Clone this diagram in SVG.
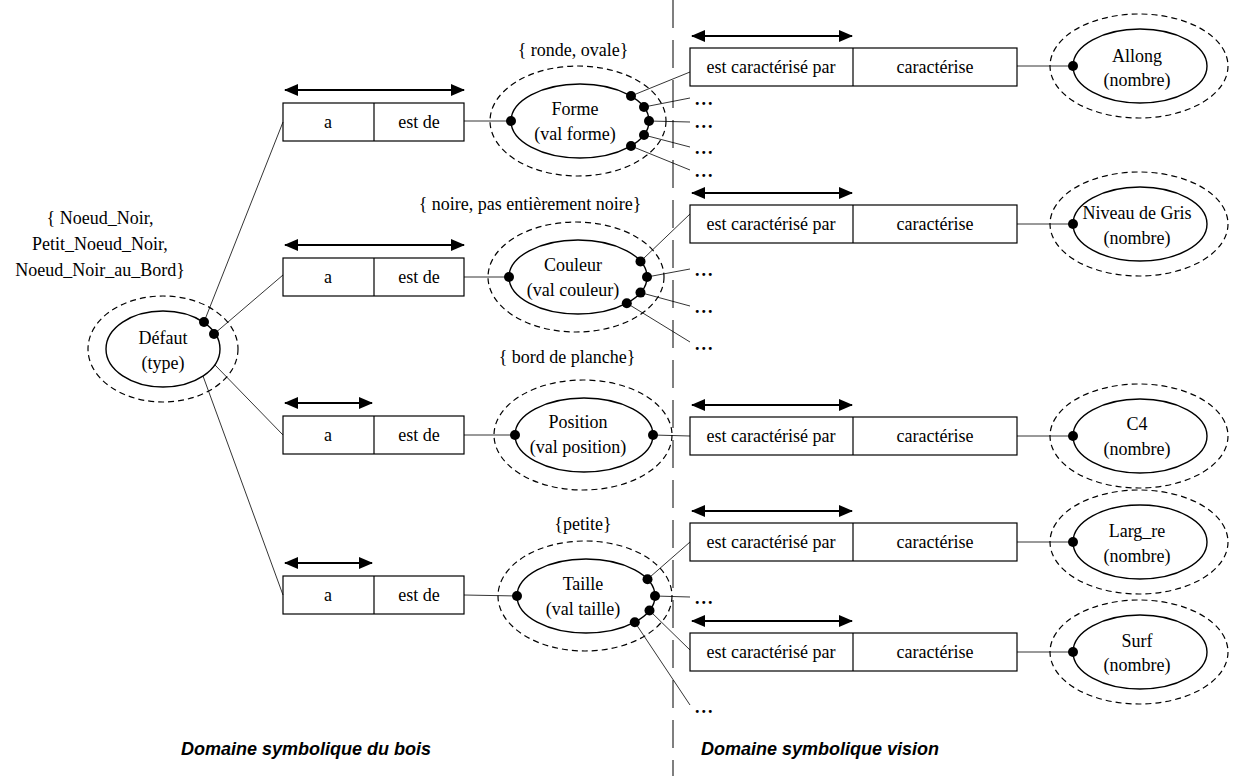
<svg xmlns="http://www.w3.org/2000/svg" width="1248" height="776" viewBox="0 0 1248 776">
<defs>
<marker id="ah" viewBox="0 0 14 12" refX="13" refY="6" markerWidth="14" markerHeight="12" markerUnits="userSpaceOnUse" orient="auto-start-reverse"><path d="M0,0 L14,6 L0,12 z" fill="#000"/></marker>
</defs>
<style>
text{font-family:"Liberation Serif","Times New Roman",serif;font-size:18px;fill:#000;text-anchor:middle;dominant-baseline:central}
.box{fill:#fff;stroke:#000;stroke-width:1.2}
.ell{fill:#fff;stroke:#000;stroke-width:1.4}
.out{fill:none;stroke:#000;stroke-width:1.2;stroke-dasharray:6 4}
.dbl{stroke:#000;stroke-width:2;marker-start:url(#ah);marker-end:url(#ah);fill:none}
.c{stroke:#000;stroke-width:0.8;fill:none}
.div{stroke:#000;stroke-width:1.2}
.dot{fill:#000}
.dots{font-weight:bold;text-anchor:start;letter-spacing:2px}
.lbl{font-family:"Liberation Sans",Arial,sans-serif;font-weight:bold;font-style:italic;font-size:18px}
.sep{stroke:#555;stroke-width:1.5;stroke-dasharray:28 12}
</style>
<rect width="1248" height="776" fill="#fff"/>
<line class="sep" x1="673" y1="0" x2="673" y2="776"/>

<g id="defaut">
<text x="100" y="218">{ Noeud_Noir,</text>
<text x="100" y="244">Petit_Noeud_Noir,</text>
<text x="100" y="270">Noeud_Noir_au_Bord}</text>
<ellipse class="out" cx="163" cy="349" rx="75" ry="53"/>
<ellipse class="ell" cx="163" cy="349" rx="57" ry="38"/>
<text x="163" y="338">Défaut</text>
<text x="163" y="363">(type)</text>
</g>

<g id="rel-forme">
<line class="dbl" x1="285" y1="90" x2="464" y2="90"/>
<rect class="box" x="283" y="103" width="181" height="38"/>
<line class="div" x1="374" y1="103" x2="374" y2="141"/>
<text x="328" y="122">a</text><text x="419" y="122">est de</text>
</g>
<g id="rel-couleur">
<line class="dbl" x1="285" y1="245" x2="464" y2="245"/>
<rect class="box" x="283" y="258" width="181" height="38"/>
<line class="div" x1="374" y1="258" x2="374" y2="296"/>
<text x="328" y="277">a</text><text x="419" y="277">est de</text>
</g>
<g id="rel-position">
<line class="dbl" x1="285" y1="403" x2="372" y2="403"/>
<rect class="box" x="283" y="416" width="181" height="38"/>
<line class="div" x1="374" y1="416" x2="374" y2="454"/>
<text x="328" y="435">a</text><text x="419" y="435">est de</text>
</g>
<g id="rel-taille">
<line class="dbl" x1="285" y1="563" x2="372" y2="563"/>
<rect class="box" x="283" y="576" width="181" height="38"/>
<line class="div" x1="374" y1="576" x2="374" y2="614"/>
<text x="328" y="595">a</text><text x="419" y="595">est de</text>
</g>

<g id="forme">
<text x="573" y="50">{ ronde, ovale}</text>
<ellipse class="out" cx="578" cy="121" rx="88" ry="55"/>
<ellipse class="ell" cx="580" cy="121" rx="69" ry="37"/>
<text x="575" y="109">Forme</text>
<text x="575" y="134">(val forme)</text>
</g>
<g id="couleur">
<text x="530" y="204">{ noire, pas entièrement noire}</text>
<ellipse class="out" cx="576" cy="277" rx="88" ry="55"/>
<ellipse class="ell" cx="578" cy="277" rx="69" ry="37"/>
<text x="573" y="265">Couleur</text>
<text x="573" y="290">(val couleur)</text>
</g>
<g id="position">
<text x="567" y="357">{ bord de planche}</text>
<ellipse class="out" cx="583" cy="435" rx="89" ry="55"/>
<ellipse class="ell" cx="584" cy="435" rx="69" ry="37"/>
<text x="578" y="422">Position</text>
<text x="578" y="447">(val position)</text>
</g>
<g id="taille">
<text x="583" y="524">{petite}</text>
<ellipse class="out" cx="585" cy="596" rx="87" ry="55"/>
<ellipse class="ell" cx="586" cy="596" rx="69" ry="37"/>
<text x="583" y="584">Taille</text>
<text x="583" y="609">(val taille)</text>
</g>

<g id="rel-allong">
<line class="dbl" x1="692" y1="36" x2="852" y2="36"/>
<rect class="box" x="690" y="48" width="327" height="38"/>
<line class="div" x1="853" y1="48" x2="853" y2="86"/>
<text x="771" y="67">est caractérisé par</text><text x="935" y="67">caractérise</text>
</g>
<g id="rel-gris">
<line class="dbl" x1="692" y1="193" x2="852" y2="193"/>
<rect class="box" x="690" y="205" width="327" height="38"/>
<line class="div" x1="853" y1="205" x2="853" y2="243"/>
<text x="771" y="224">est caractérisé par</text><text x="935" y="224">caractérise</text>
</g>
<g id="rel-c4">
<line class="dbl" x1="692" y1="405" x2="852" y2="405"/>
<rect class="box" x="690" y="417" width="327" height="38"/>
<line class="div" x1="853" y1="417" x2="853" y2="455"/>
<text x="771" y="436">est caractérisé par</text><text x="935" y="436">caractérise</text>
</g>
<g id="rel-largre">
<line class="dbl" x1="692" y1="511" x2="852" y2="511"/>
<rect class="box" x="690" y="523" width="327" height="38"/>
<line class="div" x1="853" y1="523" x2="853" y2="561"/>
<text x="771" y="542">est caractérisé par</text><text x="935" y="542">caractérise</text>
</g>
<g id="rel-surf">
<line class="dbl" x1="692" y1="621" x2="852" y2="621"/>
<rect class="box" x="690" y="633" width="327" height="38"/>
<line class="div" x1="853" y1="633" x2="853" y2="671"/>
<text x="771" y="652">est caractérisé par</text><text x="935" y="652">caractérise</text>
</g>

<g id="allong">
<ellipse class="out" cx="1139" cy="66" rx="89" ry="52"/>
<ellipse class="ell" cx="1140" cy="66" rx="67" ry="37"/>
<text x="1137" y="56">Allong</text><text x="1137" y="80">(nombre)</text>
</g>
<g id="niveau-gris">
<ellipse class="out" cx="1139" cy="224" rx="89" ry="52"/>
<ellipse class="ell" cx="1140" cy="224" rx="67" ry="37"/>
<text x="1137" y="213">Niveau de Gris</text><text x="1137" y="238">(nombre)</text>
</g>
<g id="c4">
<ellipse class="out" cx="1139" cy="436" rx="89" ry="52"/>
<ellipse class="ell" cx="1140" cy="436" rx="67" ry="37"/>
<text x="1137" y="424">C4</text><text x="1137" y="449">(nombre)</text>
</g>
<g id="largre">
<ellipse class="out" cx="1139" cy="542" rx="89" ry="52"/>
<ellipse class="ell" cx="1140" cy="542" rx="67" ry="37"/>
<text x="1137" y="531">Larg_re</text><text x="1137" y="556">(nombre)</text>
</g>
<g id="surf">
<ellipse class="out" cx="1139" cy="652" rx="89" ry="52"/>
<ellipse class="ell" cx="1140" cy="652" rx="67" ry="37"/>
<text x="1137" y="641">Surf</text><text x="1137" y="665">(nombre)</text>
</g>

<g id="ellipsis-marks">
<text class="dots" x="695" y="99">...</text>
<text class="dots" x="695" y="122">...</text>
<text class="dots" x="695" y="148">...</text>
<text class="dots" x="695" y="171">...</text>
<text class="dots" x="695" y="270">...</text>
<text class="dots" x="695" y="307">...</text>
<text class="dots" x="695" y="344">...</text>
<text class="dots" x="695" y="598">...</text>
<text class="dots" x="695" y="707">...</text>
</g>

<g id="connectors">
<line class="c" x1="204" y1="322" x2="283" y2="122"/>
<line class="c" x1="214" y1="334" x2="283" y2="275"/>
<line class="c" x1="215" y1="365" x2="283" y2="435"/>
<line class="c" x1="203" y1="376" x2="283" y2="595"/>
<line class="c" x1="464" y1="121" x2="511" y2="121"/>
<line class="c" x1="464" y1="277" x2="509" y2="277"/>
<line class="c" x1="464" y1="435" x2="515" y2="435"/>
<line class="c" x1="464" y1="595" x2="517" y2="596"/>
<line class="c" x1="631" y1="96" x2="690" y2="72"/>
<line class="c" x1="644" y1="107" x2="690" y2="98"/>
<line class="c" x1="649" y1="121" x2="690" y2="122"/>
<line class="c" x1="644" y1="135" x2="690" y2="147"/>
<line class="c" x1="631" y1="146" x2="690" y2="170"/>
<line class="c" x1="640.5" y1="261.4" x2="690" y2="214"/>
<line class="c" x1="647" y1="277" x2="690" y2="269"/>
<line class="c" x1="640.5" y1="292.6" x2="690" y2="306"/>
<line class="c" x1="626.8" y1="303.2" x2="690" y2="342"/>
<line class="c" x1="653" y1="435" x2="690" y2="436"/>
<line class="c" x1="647.5" y1="579.2" x2="690" y2="542"/>
<line class="c" x1="655" y1="596" x2="690" y2="597"/>
<line class="c" x1="649.5" y1="610.5" x2="690" y2="650"/>
<line class="c" x1="634.8" y1="622.2" x2="690" y2="705"/>
<line class="c" x1="1017" y1="66" x2="1073" y2="66"/>
<line class="c" x1="1017" y1="224" x2="1073" y2="224"/>
<line class="c" x1="1017" y1="436" x2="1073" y2="436"/>
<line class="c" x1="1017" y1="542" x2="1073" y2="542"/>
<line class="c" x1="1017" y1="652" x2="1073" y2="652"/>
<circle class="dot" cx="204" cy="322" r="5"/>
<circle class="dot" cx="214" cy="334" r="5"/>
<circle class="dot" cx="511" cy="121" r="5"/>
<circle class="dot" cx="509" cy="277" r="5"/>
<circle class="dot" cx="515" cy="435" r="5"/>
<circle class="dot" cx="653" cy="435" r="5"/>
<circle class="dot" cx="517" cy="596" r="5"/>
<circle class="dot" cx="631" cy="96" r="5"/>
<circle class="dot" cx="644" cy="107" r="5"/>
<circle class="dot" cx="649" cy="121" r="5"/>
<circle class="dot" cx="644" cy="135" r="5"/>
<circle class="dot" cx="631" cy="146" r="5"/>
<circle class="dot" cx="640.5" cy="261.4" r="5"/>
<circle class="dot" cx="647" cy="277" r="5"/>
<circle class="dot" cx="640.5" cy="292.6" r="5"/>
<circle class="dot" cx="626.8" cy="303.2" r="5"/>
<circle class="dot" cx="647.5" cy="579.2" r="5"/>
<circle class="dot" cx="655" cy="596" r="5"/>
<circle class="dot" cx="649.5" cy="610.5" r="5"/>
<circle class="dot" cx="634.8" cy="622.2" r="5"/>
<circle class="dot" cx="1073" cy="66" r="5"/>
<circle class="dot" cx="1073" cy="224" r="5"/>
<circle class="dot" cx="1073" cy="436" r="5"/>
<circle class="dot" cx="1073" cy="542" r="5"/>
<circle class="dot" cx="1073" cy="652" r="5"/>
</g>

<g id="domain-labels">
<text class="lbl" x="306" y="749">Domaine symbolique du bois</text>
<text class="lbl" x="820" y="749">Domaine symbolique vision</text>
</g>
</svg>
